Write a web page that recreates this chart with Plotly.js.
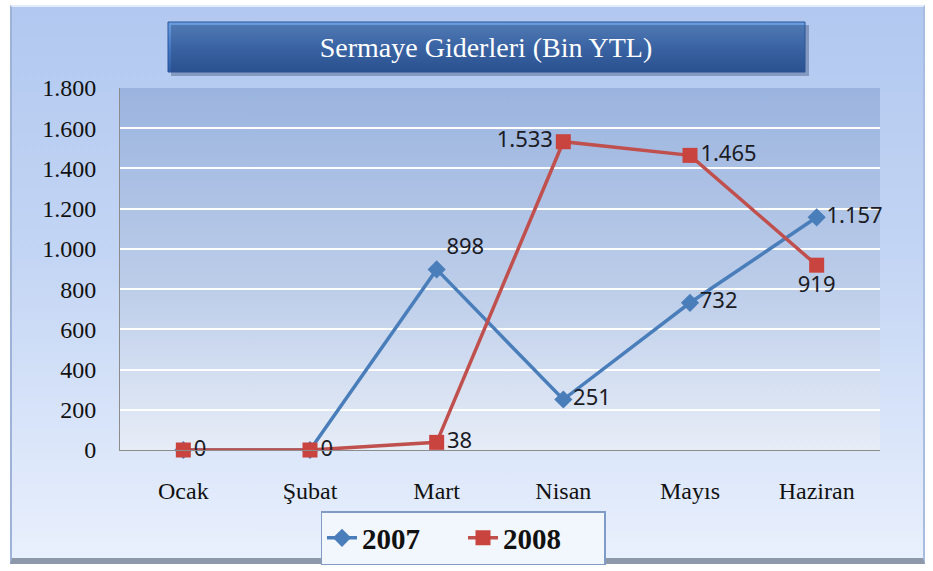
<!DOCTYPE html>
<html>
<head>
<meta charset="utf-8">
<script src="https://cdn.plot.ly/plotly-3.0.1.min.js"></script>
<style>
  html, body { margin: 0; padding: 0; background: #ffffff; }
  #wrap { position: relative; width: 933px; height: 571px; overflow: hidden; background: #ffffff; }
  #frame { position: absolute; left: 10px; top: 5px; width: 915px; height: 559px;
    background: linear-gradient(to bottom, #b2c8f0 0%, #c3d5f4 45%, #e9f0fd 100%);
    border-top: 2px solid #e2ecfb; border-left: 2px solid #9fb2d8; border-right: 2px solid #a9bde0;
    border-bottom: 6px solid #8d98ab; box-sizing: border-box; }
  #chart { position: absolute; left: 0; top: 0; width: 933px; height: 571px; }
</style>
</head>
<body>
<div id="wrap">
  <div id="frame"></div>
  <div id="chart"></div>
</div>
<script>
const categories = ["Ocak", "Şubat", "Mart", "Nisan", "Mayıs", "Haziran"];
const values2007 = [0, 0, 898, 251, 732, 1157];
const values2008 = [0, 0, 38, 1533, 1465, 919];
const yTicks = [0, 200, 400, 600, 800, 1000, 1200, 1400, 1600, 1800];
const seriesNames = ["2007", "2008"];

const labelPos2007 = ["middle right", "middle right", "top right", "middle right", "middle right", "middle right"];
const labelPos2008 = ["middle right", "middle right", "middle right", "middle left", "middle right", "bottom center"];
const show2007 = [false, false, true, true, true, true];

const plotBg = 'data:image/svg+xml;utf8,' + encodeURIComponent(
  '<svg xmlns="http://www.w3.org/2000/svg" width="100" height="100" preserveAspectRatio="none">' +
  '<defs><linearGradient id="g" x1="0" y1="0" x2="0" y2="1">' +
  '<stop offset="0" stop-color="#9bb4df"/><stop offset="0.55" stop-color="#bccde9"/><stop offset="1" stop-color="#e7edf7"/>' +
  '</linearGradient></defs><rect width="100" height="100" fill="url(#g)"/></svg>');

const titleBg = 'data:image/svg+xml;utf8,' + encodeURIComponent(
  '<svg xmlns="http://www.w3.org/2000/svg" width="100" height="100" preserveAspectRatio="none">' +
  '<defs><linearGradient id="t" x1="0" y1="0" x2="0" y2="1">' +
  '<stop offset="0" stop-color="#6a9ee0"/><stop offset="0.5" stop-color="#4479c6"/><stop offset="1" stop-color="#2c5ca6"/>' +
  '</linearGradient></defs><rect width="100" height="100" fill="url(#t)"/></svg>');

const fmt = v => v.toLocaleString('de-DE');
const labelFont = { family: 'Noto Sans, Liberation Sans, sans-serif', size: 22, color: '#1b1b24' };
const serif = 'Liberation Serif, Times New Roman, serif';

const trace2007 = {
  x: categories, y: values2007, name: seriesNames[0], type: 'scatter', mode: 'lines+markers+text',
  line: { color: '#4a7ebb', width: 3.5 },
  marker: { symbol: 'diamond', size: 14, color: '#4a7ebb' },
  text: values2007.map((v, i) => show2007[i] ? fmt(v) : ''),
  textposition: labelPos2007,
  textfont: labelFont,
  cliponaxis: false
};
const trace2008 = {
  x: categories, y: values2008, name: seriesNames[1], type: 'scatter', mode: 'lines+markers+text',
  line: { color: '#c0504d', width: 3.5 },
  marker: { symbol: 'square', size: 15, color: '#c9443f' },
  text: values2008.map(v => fmt(v)),
  textposition: labelPos2008,
  textfont: labelFont,
  cliponaxis: false
};

const layout = {
  width: 933, height: 571,
  margin: { l: 120, r: 53, t: 88, b: 121, autoexpand: false },
  paper_bgcolor: 'rgba(0,0,0,0)',
  plot_bgcolor: 'rgba(0,0,0,0)',
  separators: ',.',
  showlegend: true,
  title: {
    text: 'Sermaye Giderleri (Bin YTL)',
    font: { family: serif, size: 28, color: '#ffffff' },
    xref: 'container', yref: 'container', x: 486 / 933, y: 1 - 47 / 571,
    xanchor: 'center', yanchor: 'middle'
  },
  xaxis: {
    type: 'category', range: [-0.5, 5.5],
    showgrid: false, zeroline: false,
    showline: true, linecolor: '#8c8c8c', linewidth: 1,
    ticks: '', ticklabelstandoff: 19,
    tickfont: { family: serif, size: 24, color: '#111111' }
  },
  yaxis: {
    range: [0, 1800], tickvals: yTicks, tickformat: ',d',
    showgrid: true, gridcolor: '#ffffff', gridwidth: 2,
    zeroline: false, showline: true, linecolor: '#8c8c8c', linewidth: 1,
    ticks: '', ticklabelstandoff: 18,
    tickfont: { family: serif, size: 24, color: '#111111' }
  },
  legend: {
    orientation: 'h', x: (463 - 120) / 760, xanchor: 'center',
    y: (450 - 538) / 362, yanchor: 'middle',
    bgcolor: '#f2f6fd', bordercolor: '#7f9bc6', borderwidth: 1.5,
    font: { family: serif, size: 29, color: '#111111', weight: 'bold' },
    itemwidth: 30, entrywidth: 96, tracegroupgap: 0
  },
  images: [
    { source: plotBg, xref: 'paper', yref: 'paper', x: 0, y: 1, sizex: 1, sizey: 1,
      xanchor: 'left', yanchor: 'top', sizing: 'stretch', layer: 'below' },
    { source: titleBg, xref: 'paper', yref: 'paper', x: (168 - 120) / 760, y: (450 - 22) / 362,
      sizex: (805 - 168) / 760, sizey: 50 / 362, xanchor: 'left', yanchor: 'top', sizing: 'stretch', layer: 'below' }
  ],
  shapes: [
    { type: 'rect', xref: 'paper', yref: 'paper', layer: 'below',
      x0: (171 - 120) / 760, x1: (809 - 120) / 760, y0: (450 - 76) / 362, y1: (450 - 25) / 362,
      fillcolor: 'rgba(40,60,100,0.35)', line: { width: 0 } },
    { type: 'rect', xref: 'paper', yref: 'paper', layer: 'above',
      x0: (168 - 120) / 760, x1: (805 - 120) / 760, y0: (450 - 72) / 362, y1: (450 - 22) / 362,
      fillcolor: 'rgba(0,0,0,0)', line: { color: '#2b5596', width: 1 } }
  ]
};

Plotly.newPlot('chart', [trace2007, trace2008], layout, { displayModeBar: false, staticPlot: true });
</script>
</body>
</html>
